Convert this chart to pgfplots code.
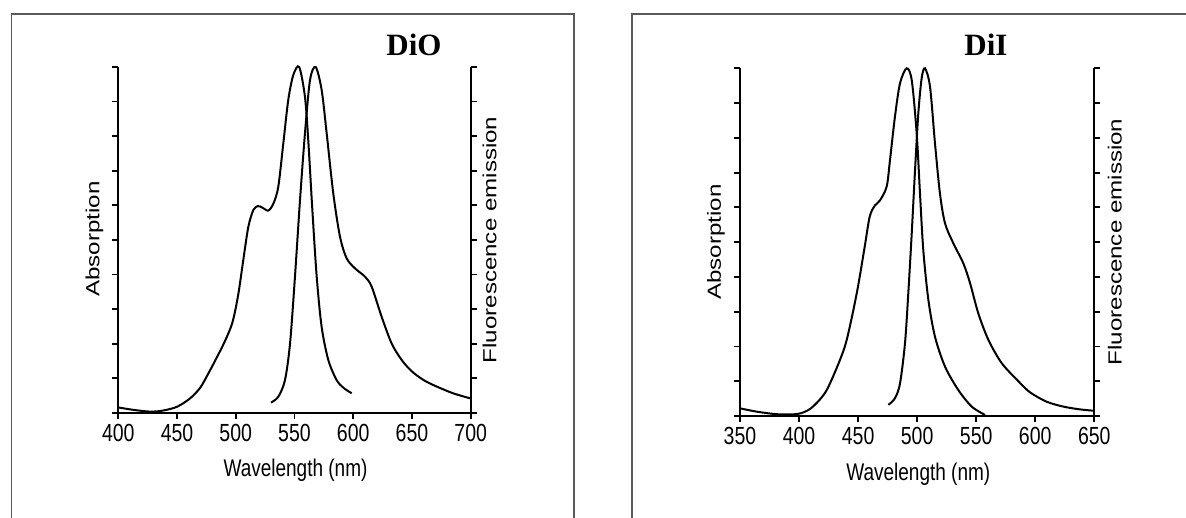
\documentclass[border=0pt]{standalone}
\usepackage{pgfplots}
\pgfplotsset{compat=1.18}
\usepackage{fontspec}
\setmainfont{Liberation Sans}
\newfontfamily\titlefont{Liberation Serif}
\definecolor{framegray}{rgb}{0.35,0.35,0.35}

\pgfplotsset{
  spec/.style={
    scale only axis,
    anchor=south west,
    ymin=0, ymax=10,
    ytick={0,1,...,10},
    yticklabels={},
    axis x line*=bottom,
    axis y line*=box,
    tick align=outside,
    major tick length=6pt,
    x axis line style={-, line width=2pt, shorten <=-5.7pt, shorten >=-5.7pt},
    y axis line style={-, line width=2pt},
    every tick/.style={black, line width=1.8pt},
    xticklabel={\scalebox{1}[1.27]{\pgfmathprintnumber[assume math mode=true]{\tick}}},
    xticklabel style={font=\fontsize{19.5}{22}\selectfont, yshift=-2pt},
    clip=false,
  },
  curve/.style={black, line width=2pt, smooth, no marks},
}
\tikzset{lab/.style={font=\fontsize{19}{22}\selectfont}}

\begin{document}
\begin{tikzpicture}
\useasboundingbox (0pt,0pt) rectangle (1186pt,518pt);
\draw[framegray, line width=1.5pt] (11.3pt,-5pt) -- (11.3pt,504pt) -- (574pt,504pt) -- (574pt,-5pt);
\draw[framegray, line width=1.5pt] (632pt,-5pt) -- (632pt,504pt) -- (1190pt,504pt);

% ---------------- DiO ----------------
\begin{axis}[spec, at={(118.3pt,105pt)}, width=352.4pt, height=346pt,
  xmin=400, xmax=700, xtick={400,450,...,700}]
\addplot[curve] coordinates {
(400,0.16) (413,0.09) (427,0.04) (438,0.07) (450,0.18) (461,0.42)
(469.5,0.72) (476,1.1) (483,1.55) (490,2.02) (497,2.6) (502,3.4)
(506.4,4.42) (510.7,5.38) (515,5.87) (519,5.98) (523,5.93) (527.7,5.85)
(532,6.05) (536.2,6.54) (540.5,7.8) (544.7,9.05) (549,9.77) (554,10.0)
(558.9,9.14) (561.7,7.89) (565.2,5.87) (568.9,3.94) (573.1,2.49)
(578.8,1.53) (585.9,0.95) (592,0.72) (598.7,0.57)
};
\addplot[curve] coordinates {
(530,0.30) (536.2,0.47) (541.9,0.95) (546.2,2.01) (550.4,3.94)
(554.7,6.16) (558.9,8.08) (563.2,9.62) (568,10.0) (573.1,9.34)
(577.4,8.08) (583,6.35) (588.7,5.1) (594.4,4.47) (601.5,4.18)
(610,3.94) (615.7,3.65) (624.2,2.78) (632.7,2.01) (641.3,1.53)
(650,1.2) (660,0.95) (670,0.78) (685,0.57) (700,0.42)
};
\end{axis}
\node[font=\titlefont\fontsize{31}{36}\selectfont\bfseries] at (414pt,473pt) {DiO};
\node[rotate=90, lab] at (94.5pt,279pt) {\scalebox{1.27}[1]{Absorption}};
\node[rotate=90, lab] at (489.6pt,278pt) {\scalebox{1.27}[1]{Fluorescence emission}};
\node[lab] at (295.5pt,48pt) {\scalebox{1}[1.27]{Wavelength (nm)}};

% ---------------- DiI ----------------
\begin{axis}[spec, at={(740pt,102pt)}, width=354.3pt, height=347.7pt,
  xmin=350, xmax=650, xtick={350,400,...,650}]
\addplot[curve] coordinates {
(350,0.22) (365,0.12) (382,0.05) (399,0.06) (410,0.22) (421.7,0.65)
(430,1.23) (438.7,1.99) (444.2,2.76) (449.9,3.72) (455.6,4.87)
(459.8,5.73) (464.1,6.05) (468.5,6.2) (474.2,6.6) (477,7.36)
(481.2,8.61) (485.5,9.57) (491.1,10.0) (495.4,9.66) (499.6,8.13)
(502.4,6.4) (505.2,4.77) (509.5,3.34) (515.1,2.28) (523.6,1.42)
(534.8,0.75) (546.2,0.27) (557.5,0.03)
};
\addplot[curve] coordinates {
(475.6,0.32) (481.2,0.51) (485.5,0.94) (489.7,2.09) (492.5,3.53)
(495.4,5.25) (498.2,7.07) (501,8.71) (503.8,9.71) (506.6,10.0)
(510.9,9.47) (515.1,7.84) (519.3,6.4) (523.6,5.54) (530.6,4.97)
(539.1,4.39) (544.8,3.82) (551.8,2.95) (560.3,2.19) (571.6,1.52)
(585.7,1.0) (595.6,0.68) (609.7,0.41) (623.8,0.27) (637.9,0.19)
(650,0.15)
};
\end{axis}
\node[font=\titlefont\fontsize{31}{36}\selectfont\bfseries] at (986pt,473pt) {DiI};
\node[rotate=90, lab] at (716pt,276pt) {\scalebox{1.27}[1]{Absorption}};
\node[rotate=90, lab] at (1114.7pt,276pt) {\scalebox{1.27}[1]{Fluorescence emission}};
\node[lab] at (918.3pt,44pt) {\scalebox{1}[1.27]{Wavelength (nm)}};
\end{tikzpicture}
\end{document}
